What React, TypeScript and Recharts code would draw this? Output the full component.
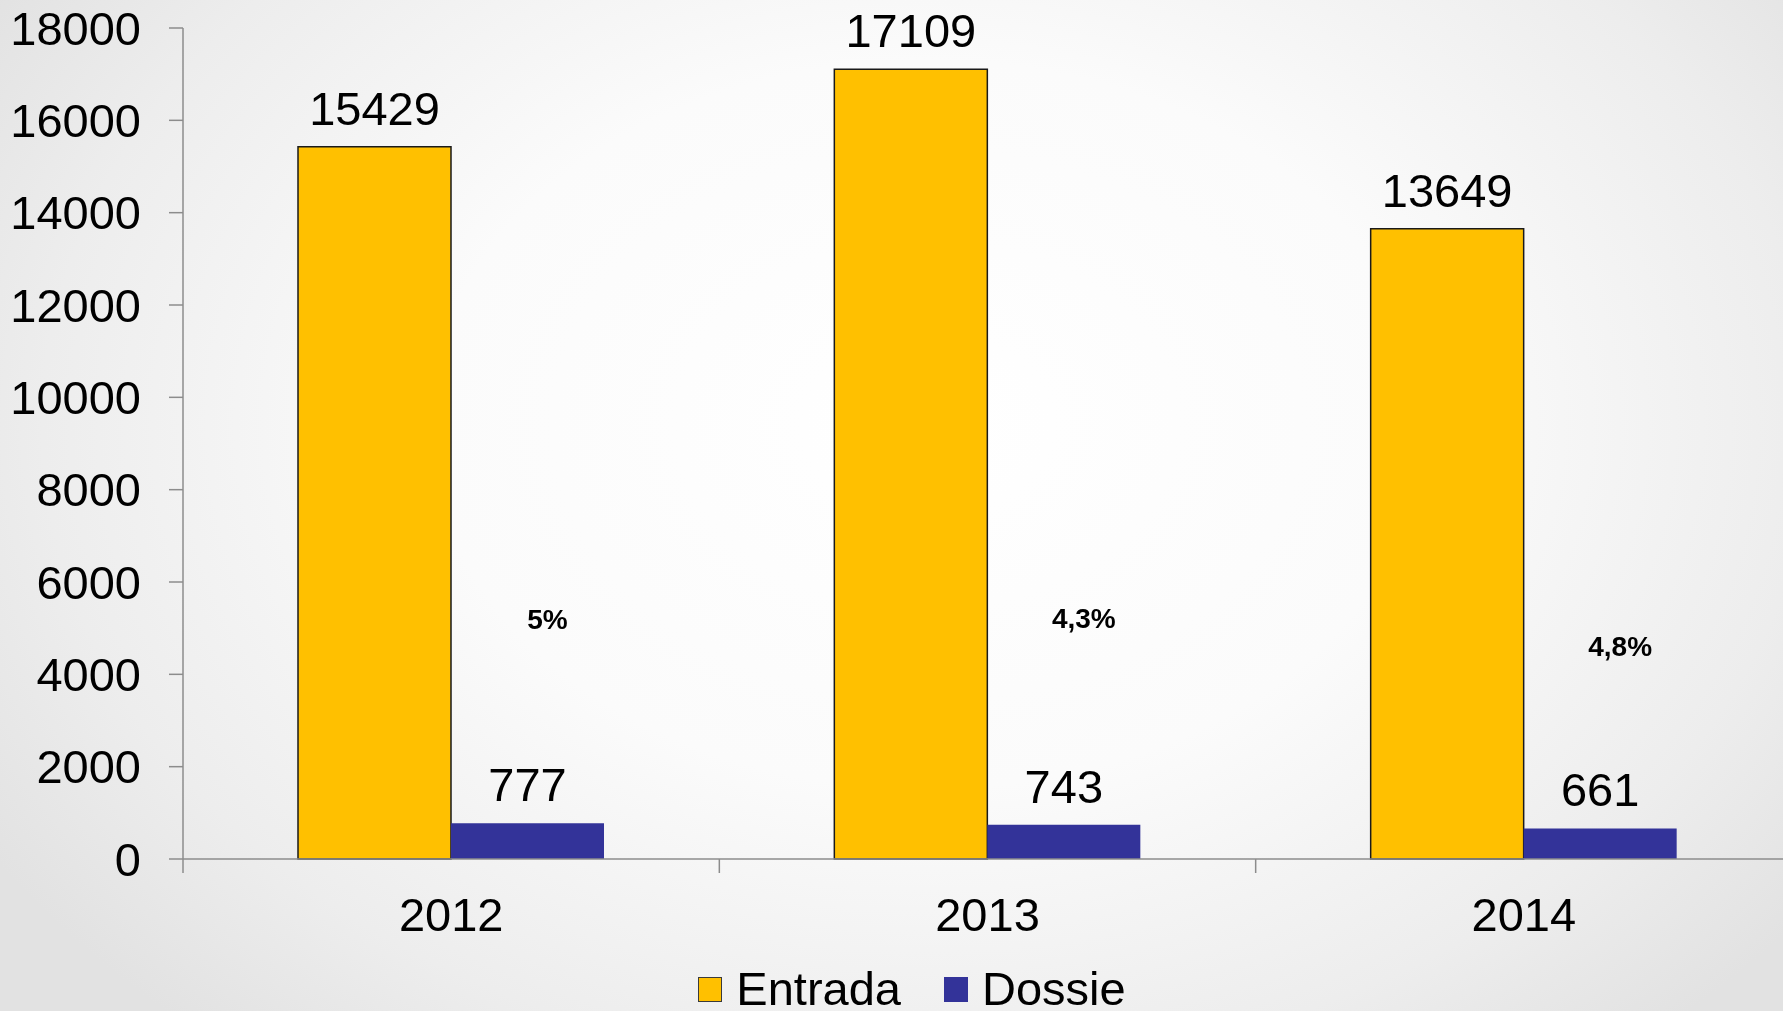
import React from 'react';
import {
  BarChart,
  Bar,
  XAxis,
  YAxis,
  Legend,
  LabelList,
} from 'recharts';

const years = ['2012', '2013', '2014'];
const entradaValues = [15429, 17109, 13649];
const dossieValues = [777, 743, 661];
// share of Dossie over Entrada, written as loose text boxes in the slide
const shareLabels = ['5%', '4,3%', '4,8%'];
const shareLabelLevel = [5180, 5200, 4610];
const yTicks = [0, 2000, 4000, 6000, 8000, 10000, 12000, 14000, 16000, 18000];

const FONT = '"Liberation Sans", Arial, Helvetica, sans-serif';
const AXIS_COLOR = '#8c8c8c';

const data = years.map((year, i) => ({
  year,
  entrada: entradaValues[i],
  dossie: dossieValues[i],
  share: shareLabels[i],
  shareLevel: shareLabelLevel[i],
}));

// x tick: year label in the middle, small tick line on the category boundary
const YearTick = (props: any) => {
  const { x, y, payload, index } = props;
  const half = payload.offset || 268;
  return (
    <g>
      <line x1={x - half} x2={x - half} y1={y - 14} y2={y} stroke={AXIS_COLOR} strokeWidth={1.5} />
      {index === years.length - 1 && (
        <line x1={x + half} x2={x + half} y1={y - 14} y2={y} stroke={AXIS_COLOR} strokeWidth={1.5} />
      )}
      <text x={x} y={y + 58} textAnchor="middle" fontSize={47} fill="#000">
        {payload.value}
      </text>
    </g>
  );
};

// percentage note, placed by value using the Dossie bar's own scale
const ShareNote = (props: any) => {
  const { x, y, width, height, index } = props;
  const row = data[index];
  const base = y + height;
  const perUnit = height / row.dossie;
  return (
    <text
      x={x + width / 2 + 20}
      y={base - row.shareLevel * perUnit}
      textAnchor="middle"
      dominantBaseline="central"
      fontSize={28}
      fontWeight="bold"
      fill="#000"
    >
      {row.share}
    </text>
  );
};

const legendItems = [
  { name: 'Entrada', color: '#FFC000', border: '1.5px solid #3a3a3a' },
  { name: 'Dossie', color: '#333399', border: 'none' },
];

const renderLegend = () => (
  <div style={{ height: 52, overflow: 'visible' }}>
    <div
      style={{
        display: 'flex',
        justifyContent: 'center',
        alignItems: 'center',
        height: 52,
        marginTop: 4,
        fontFamily: FONT,
        fontSize: 47,
        lineHeight: '52px',
        color: '#000',
      }}
    >
      {legendItems.map((item, i) => (
        <div key={item.name} style={{ display: 'flex', alignItems: 'center', marginLeft: i === 0 ? 0 : 43 }}>
          <span
            style={{
              width: 24,
              height: 25,
              boxSizing: 'border-box',
              backgroundColor: item.color,
              border: item.border,
              display: 'inline-block',
              marginRight: 14,
            }}
          ></span>
          {item.name}
        </div>
      ))}
    </div>
  </div>
);

const App: React.FC = () => {
  return (
    <div
      style={{
        position: 'fixed',
        top: 0,
        left: 0,
        width: 1783,
        height: 1011,
        overflow: 'hidden',
        background:
          'radial-gradient(ellipse 62% 80% at 52% 42%, #ffffff 0%, #fbfbfb 45%, #ededed 80%, #e2e2e2 100%)',
      }}
    >
      <BarChart
        width={1800}
        height={1011}
        data={data}
        margin={{ top: 28, right: 8, left: 0, bottom: 0 }}
        barGap={0}
        style={{ fontFamily: FONT }}
      >
        <XAxis
          dataKey="year"
          height={100}
          tickSize={14}
          tickMargin={0}
          tickLine={false}
          axisLine={{ stroke: AXIS_COLOR, strokeWidth: 1.5 }}
          tick={<YearTick />}
          interval={0}
        />
        <YAxis
          width={183}
          domain={[0, 18000]}
          ticks={yTicks}
          interval={0}
          tickSize={14}
          tickMargin={28}
          axisLine={{ stroke: AXIS_COLOR, strokeWidth: 1.5 }}
          tickLine={{ stroke: AXIS_COLOR, strokeWidth: 1.5 }}
          tick={{ fill: '#000', fontSize: 47 }}
        />
        <Legend
          verticalAlign="bottom"
          content={renderLegend}
          wrapperStyle={{ left: 0, bottom: 0, width: 1824, height: 52 }}
        />
        <Bar dataKey="entrada" name="Entrada" fill="#FFC000" stroke="#1a1a1a" strokeWidth={1.5} barSize={153} isAnimationActive={false}>
          <LabelList dataKey="entrada" position="top" offset={22} fill="#000" fontSize={47} />
        </Bar>
        <Bar dataKey="dossie" name="Dossie" fill="#333399" barSize={153} isAnimationActive={false}>
          <LabelList dataKey="dossie" position="top" offset={22} fill="#000" fontSize={47} />
          <LabelList dataKey="share" content={<ShareNote />} />
        </Bar>
      </BarChart>
    </div>
  );
};

export default App;
